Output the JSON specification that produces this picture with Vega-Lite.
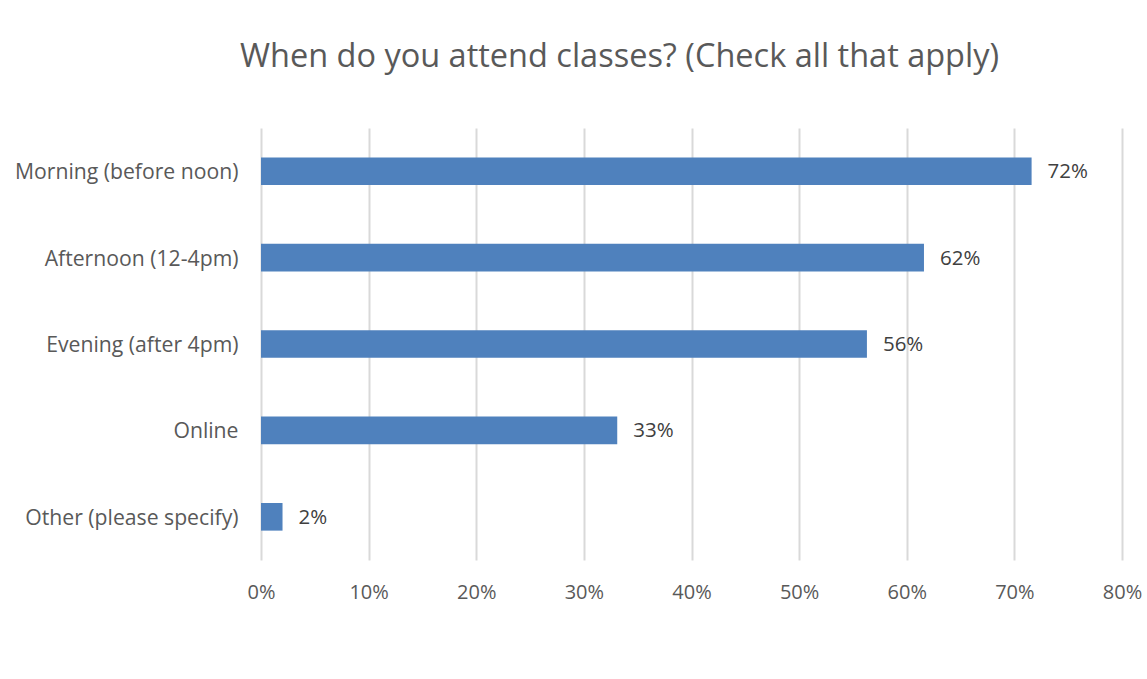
{
  "$schema": "https://vega.github.io/schema/vega-lite/v6.json",
  "width": 861,
  "height": 432,
  "autosize": "none",
  "padding": {"left": 261, "top": 128, "right": 25, "bottom": 119},
  "background": "white",
  "title": {
    "text": "When do you attend classes? (Check all that apply)",
    "font": "Open Sans",
    "fontSize": 32.5,
    "fontWeight": "normal",
    "color": "#595959",
    "anchor": "middle",
    "dx": -72,
    "baseline": "alphabetic",
    "offset": 29
  },
  "data": {
    "values": [
      {"option": "Morning (before noon)", "share": 0.716, "label": "72%"},
      {"option": "Afternoon (12-4pm)", "share": 0.616, "label": "62%"},
      {"option": "Evening (after 4pm)", "share": 0.563, "label": "56%"},
      {"option": "Online", "share": 0.331, "label": "33%"},
      {"option": "Other (please specify)", "share": 0.02, "label": "2%"}
    ]
  },
  "encoding": {
    "y": {
      "field": "option",
      "type": "nominal",
      "sort": null,
      "title": null,
      "scale": {"paddingInner": 0.68, "paddingOuter": 0.34},
      "axis": {
        "domain": false,
        "ticks": false,
        "labelFont": "Open Sans",
        "labelFontSize": 21.2,
        "labelColor": "#595959",
        "labelPadding": 23,
        "labelOffset": 2,
        "labelLimit": 300
      }
    },
    "x": {
      "field": "share",
      "type": "quantitative",
      "title": null,
      "scale": {"domain": [0, 0.8], "nice": false},
      "axis": {
        "format": ".0%",
        "values": [0, 0.1, 0.2, 0.3, 0.4, 0.5, 0.6, 0.7, 0.8],
        "domain": false,
        "ticks": false,
        "grid": true,
        "gridColor": "#d9d9d9",
        "gridWidth": 2,
        "labelFont": "Open Sans",
        "labelFontSize": 20,
        "labelColor": "#595959",
        "labelPadding": 22,
        "labelFlush": false
      }
    }
  },
  "layer": [
    {"mark": {"type": "bar", "color": "#4F81BD"}},
    {
      "mark": {"type": "text", "align": "left", "dx": 16, "dy": 1, "font": "Open Sans", "fontSize": 20.5, "color": "#404040"},
      "encoding": {"text": {"field": "label"}}
    }
  ],
  "config": {"view": {"stroke": null}}
}
